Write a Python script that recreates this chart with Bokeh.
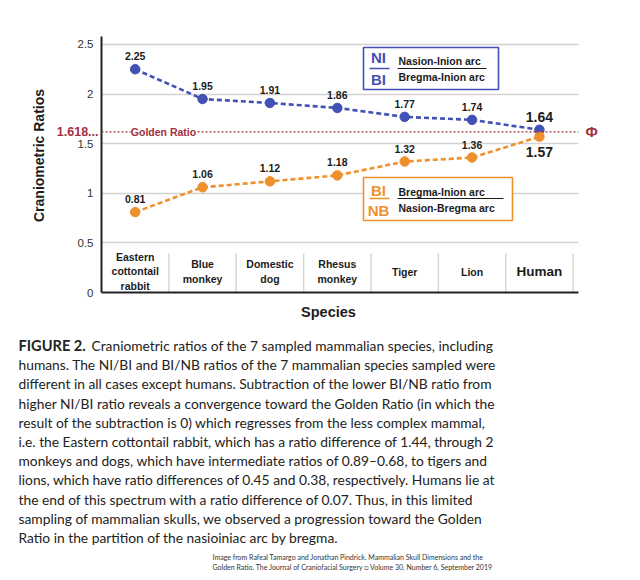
from bokeh.plotting import figure
from bokeh.models import (Label, Span, FixedTicker, CustomJSTickFormatter, ColumnDataSource,
                          LinearAxis, Range1d)
from bokeh.layouts import column
from bokeh.core.properties import value
from bokeh.embed import file_html
from bokeh.resources import INLINE

# ---------------- data ----------------
species = ["Eastern\ncottontail\nrabbit", "Blue\nmonkey", "Domestic\ndog",
           "Rhesus\nmonkey", "Tiger", "Lion", "Human"]
ni_bi = [2.25, 1.95, 1.91, 1.86, 1.77, 1.74, 1.64]
bi_nb = [0.81, 1.06, 1.12, 1.18, 1.32, 1.36, 1.57]
golden = 1.618
y_ticks = [0, 0.5, 1, 1.5, 2, 2.5]

caption_head = "FIGURE 2."
caption_lines = [
    "Craniometric ratios of the 7 sampled mammalian species, including",
    "humans. The NI/BI and BI/NB ratios of the 7 mammalian species sampled were",
    "different in all cases except humans. Subtraction of the lower BI/NB ratio from",
    "higher NI/BI ratio reveals a convergence toward the Golden Ratio (in which the",
    "result of the subtraction is 0) which regresses from the less complex mammal,",
    "i.e. the Eastern cottontail rabbit, which has a ratio difference of 1.44, through 2",
    "monkeys and dogs, which have intermediate ratios of 0.89\u20130.68, to tigers and",
    "lions, which have ratio differences of 0.45 and 0.38, respectively. Humans lie at",
    "the end of this spectrum with a ratio difference of 0.07. Thus, in this limited",
    "sampling of mammalian skulls, we observed a progression toward the Golden",
    "Ratio in the partition of the nasioiniac arc by bregma.",
]
credit_lines = [
    "Image from Rafeal Tamargo and Jonathan Pindrick. Mammalian Skull Dimensions and the",
    "Golden Ratio. The Journal of Craniofacial Surgery \u25a1 Volume 30, Number 6, September 2019",
]

# ---------------- geometry ----------------
W = 632
H1, H2 = 330, 242
FL, FR, FT, FB = 101, 578, 36, 292  # chart frame in pixels
XMAX, YMAX = 7.08, 2.58
sx = (FR - FL) / XMAX
sy = (FB - FT) / YMAX

def dx(px):
    return (px - FL) / sx

def dy(py):
    return (FB - py) / sy

BLUE = "#4251b4"
ORANGE = "#f0902c"
RED = "#a3303c"
DARK = "#1c1c1c"
FONT = "Liberation Sans"

p = figure(width=W, height=H1, output_backend="svg", toolbar_location=None,
           x_range=(0, XMAX), y_range=(0, YMAX),
           min_border_left=FL, min_border_right=W - FR,
           min_border_top=FT, min_border_bottom=H1 - FB)
p.frame_align = False
p.outline_line_color = None
p.background_fill_color = "white"
p.border_fill_color = "white"

def no_ticks(ax):
    ax.major_tick_line_color = None
    ax.minor_tick_line_color = None
    ax.major_tick_in = 0
    ax.major_tick_out = 0
    ax.minor_tick_in = 0
    ax.minor_tick_out = 0

# main y axis (numeric)
ya = p.yaxis[0]
ya.ticker = FixedTicker(ticks=y_ticks)
ya.formatter = CustomJSTickFormatter(code="return String(tick);")
no_ticks(ya)
ya.axis_line_width = 2
ya.axis_line_color = "#222222"
ya.major_label_text_font = FONT
ya.major_label_text_font_size = "11.5px"
ya.major_label_text_color = "#333333"
ya.major_label_standoff = 8

# golden ratio tick label (outer left axis)
ga = LinearAxis(ticker=FixedTicker(ticks=[golden]),
                formatter=CustomJSTickFormatter(code="return '1.618...';"),
                axis_line_color=None, major_label_standoff=-24,
                major_label_text_font=FONT, major_label_text_font_style="bold",
                major_label_text_font_size="12.5px", major_label_text_color=RED)
no_ticks(ga)
p.add_layout(ga, "left")

# y title as a rotated tick label, centred where the reference places it
ta = LinearAxis(ticker=FixedTicker(ticks=[dy(155)]),
                formatter=CustomJSTickFormatter(code="return 'Craniometric Ratios';"),
                axis_line_color=None, major_label_standoff=7,
                major_label_orientation="vertical",
                major_label_text_font=FONT, major_label_text_font_style="bold",
                major_label_text_font_size="14px", major_label_text_color=DARK)
no_ticks(ta)
p.add_layout(ta, "left")

# phi on the right
ra = LinearAxis(ticker=FixedTicker(ticks=[golden]),
                formatter=CustomJSTickFormatter(code="return '\u03a6';"),
                axis_line_color=None, major_label_standoff=7,
                major_label_text_font=FONT, major_label_text_font_style="bold",
                major_label_text_font_size="15px", major_label_text_color=RED)
no_ticks(ra)
p.add_layout(ra, "right")

# x axis with 'Species'
xa = p.xaxis[0]
xa.ticker = FixedTicker(ticks=[dx(328)])
xa.formatter = CustomJSTickFormatter(code="return 'Species';")
no_ticks(xa)
xa.axis_line_width = 2
xa.axis_line_color = "#222222"
xa.major_label_standoff = 11
xa.major_label_text_font = FONT
xa.major_label_text_font_style = "bold"
xa.major_label_text_font_size = "14.5px"
xa.major_label_text_color = DARK

p.xgrid.grid_line_color = None
p.ygrid.ticker = FixedTicker(ticks=y_ticks)
p.ygrid.grid_line_color = "#d2d2d2"
p.ygrid.grid_line_width = 1.5

# category band separators and labels
n = len(species)
xs = [i + 0.5 for i in range(n)]
p.segment(x0=list(range(1, n + 1)), y0=[0] * n, x1=list(range(1, n + 1)), y1=[dy(253)] * n,
          line_color="#d6d6d6", line_width=1.5)
cat_src = ColumnDataSource(dict(x=xs, y=[dy(271)] * n, t=species,
                                fs=["13.5px" if s == "Human" else "10.5px" for s in species]))
p.text(x="x", y="y", text="t", source=cat_src, text_font=value(FONT), text_font_style="bold",
       text_font_size="fs", text_align="center", text_baseline="middle", text_color=DARK,
       text_line_height=1.2)

# golden ratio line
p.add_layout(Span(location=golden, dimension="width", line_color=RED, line_dash="2 2", line_width=1.3))
p.add_layout(Label(x=dx(163), y=golden, text="Golden Ratio", text_font=FONT, text_font_style="bold",
                   text_font_size="10.5px", text_color=RED, text_align="center", text_baseline="middle",
                   background_fill_color="white"))

# series
p.line(xs, ni_bi, line_color=BLUE, line_width=2.6, line_dash="5 3")
p.scatter(xs, ni_bi, size=9.5, fill_color=BLUE, line_color=BLUE)
p.line(xs, bi_nb, line_color=ORANGE, line_width=2.6, line_dash="5 3")
p.scatter(xs, bi_nb, size=9.5, fill_color=ORANGE, line_color=ORANGE)

fmt = lambda v: f"{v:.2f}"
blue_src = ColumnDataSource(dict(x=xs, y=ni_bi, t=[fmt(v) for v in ni_bi],
                                 fs=["10.5px"] * (n - 1) + ["14px"]))
p.text(x="x", y="y", text="t", source=blue_src, text_font=value(FONT), text_font_style="bold",
       text_font_size="fs", text_align="center", text_baseline="middle", text_color=DARK,
       y_offset=-13)
or_src = ColumnDataSource(dict(x=xs[:-1], y=bi_nb[:-1], t=[fmt(v) for v in bi_nb[:-1]]))
p.text(x="x", y="y", text="t", source=or_src, text_font=value(FONT), text_font_style="bold",
       text_font_size="10.5px", text_align="center", text_baseline="middle", text_color=DARK,
       y_offset=-13)
p.text(x=[xs[-1]], y=[bi_nb[-1]], text=[fmt(bi_nb[-1])], text_font=value(FONT), text_font_style="bold",
       text_font_size="14px", text_align="center", text_baseline="middle", text_color=DARK,
       y_offset=15)

# legend boxes
def legend_box(x0, x1, y0, y1, color, top, bottom, txt_top, txt_bot, bar_y, bar_x1, ty1, ty2, by1, by2):
    p.quad(left=[dx(x0)], right=[dx(x1)], top=[dy(y0)], bottom=[dy(y1)],
           fill_color="white", line_color=color, line_width=1.6)
    p.text(x=[dx(378), dx(378)], y=[dy(by1), dy(by2)], text=[top, bottom], text_font=value(FONT),
           text_font_style="bold", text_font_size="15px", text_align="center",
           text_baseline="middle", text_color=color)
    p.segment(x0=[dx(369)], x1=[dx(389)], y0=[dy(bar_y)], y1=[dy(bar_y)], line_color=color, line_width=1.5)
    p.text(x=[dx(398), dx(398)], y=[dy(ty1), dy(ty2)], text=[txt_top, txt_bot], text_font=value(FONT),
           text_font_style="bold", text_font_size="10.5px", text_align="left",
           text_baseline="middle", text_color=DARK)
    p.segment(x0=[dx(397)], x1=[dx(bar_x1)], y0=[dy(bar_y)], y1=[dy(bar_y)], line_color=DARK, line_width=1.2)

legend_box(363, 498, 47, 89, BLUE, "NI", "BI", "Nasion-Inion arc", "Bregma-Inion arc",
           68, 486, 60, 76, 57, 79)
legend_box(363, 512, 177, 220, ORANGE, "BI", "NB", "Bregma-Inion arc", "Nasion-Bregma arc",
           198, 503, 191, 207, 190, 210)

# ---------------- caption figure ----------------
c = figure(width=W, height=H2, output_backend="svg", toolbar_location=None,
           x_range=Range1d(0, W), y_range=Range1d(H2, 0),
           x_axis_type=None, y_axis_type=None, min_border=0)
c.frame_align = False
c.grid.visible = False
c.outline_line_color = None
c.background_fill_color = "white"
c.border_fill_color = "white"

CAP_FONT = "Lato"
CAP_SIZE = "13.8px"
y0 = 345 - H1
c.text(x=[18], y=[y0], text=[caption_head], text_font=value(CAP_FONT), text_font_style="bold",
       text_font_size="14.6px", text_color="#222222", text_align="left", text_baseline="middle")
cap_x = [91] + [18] * (len(caption_lines) - 1)
cap_y = [y0 + 19.2 * i for i in range(len(caption_lines))]
c.text(x=cap_x, y=cap_y, text=caption_lines, text_font=value(CAP_FONT),
       text_font_size=CAP_SIZE, text_color="#222222", text_align="left", text_baseline="middle")
c.text(x=[212, 212], y=[556 - H1, 566 - H1], text=credit_lines, text_font=value(CAP_FONT),
       text_font_size="7px", text_color="#333333", text_align="left", text_baseline="middle")

open("out.html", "w").write(file_html(column(p, c), INLINE))
